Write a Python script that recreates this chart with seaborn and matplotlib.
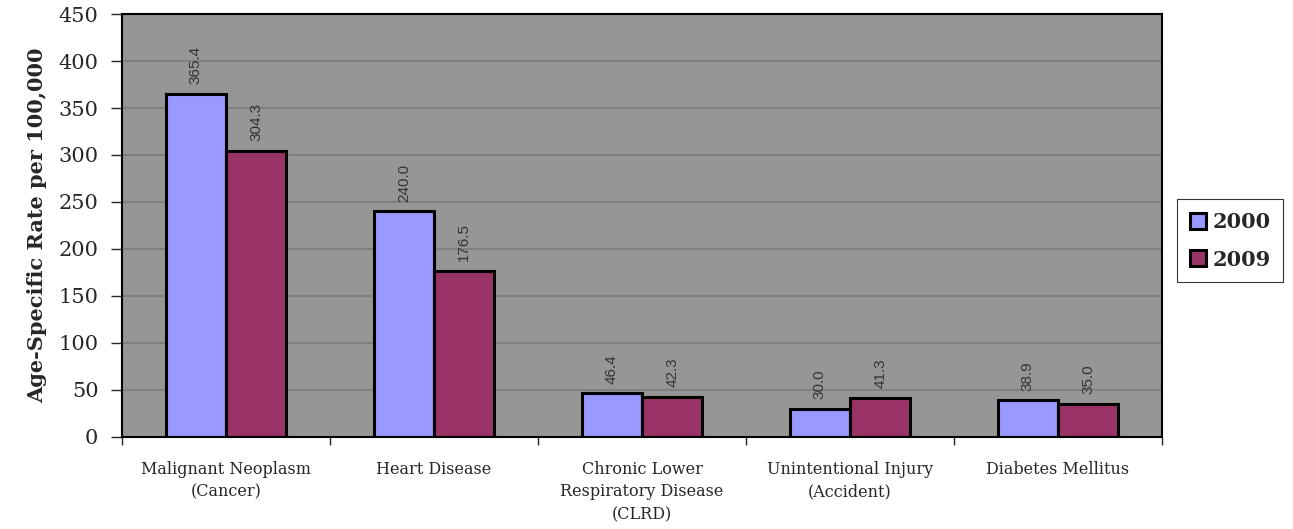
import matplotlib.pyplot as plt
import seaborn as sns
import pandas as pd
import numpy as np

# Data
causes = ["Malignant Neoplasm\n(Cancer)", "Heart Disease",
          "Chronic Lower\nRespiratory Disease\n(CLRD)",
          "Unintentional Injury\n(Accident)", "Diabetes Mellitus"]
years = ["2000", "2009"]
rate_2000 = [365.4, 240.0, 46.4, 30.0, 38.9]
rate_2009 = [304.3, 176.5, 42.3, 41.3, 35.0]
y_ticks = list(range(0, 451, 50))

colors = ["#9999FF", "#993366"]
serif = ["DejaVu Serif"]

df = pd.DataFrame({"Cause": causes * 2,
                   "Year": [years[0]] * 5 + [years[1]] * 5,
                   "Rate": rate_2000 + rate_2009})

sns.set_style("white")
plt.rcParams['font.family'] = serif

fig = plt.figure(figsize=(12.93, 5.29), dpi=100)
ax = fig.add_axes([0.0944, 0.174, 0.8043, 0.7995])
ax.set_facecolor("#969696")

sns.barplot(data=df, x="Cause", y="Rate", hue="Year", palette=colors,
            saturation=1, width=0.58, edgecolor="black", linewidth=2.2, ax=ax)

ax.set_ylim(0, 450)
ax.set_xlim(-0.5, 4.5)
ax.set_yticks(y_ticks)
ax.yaxis.grid(True, color="#808080", linewidth=1.5)
ax.set_axisbelow(True)

for s in ax.spines.values():
    s.set_color("black")
    s.set_linewidth(1.5)

ax.tick_params(axis="y", labelsize=15, length=8, width=1, direction="out",
               left=True, pad=9)
ax.set_xticks(range(5))
ax.set_xticklabels(causes, fontsize=11.5, linespacing=1.45)
ax.tick_params(axis="x", which="major", length=0, pad=17)
ax.set_xticks(np.arange(-0.5, 5, 1), minor=True)
ax.tick_params(axis="x", which="minor", length=6, width=1, direction="out", bottom=True)

ax.set_xlabel("")
ax.set_ylabel("Age-Specific Rate per 100,000", fontsize=15, fontweight="bold", labelpad=8)

for container in ax.containers:
    ax.bar_label(container, fmt="%.1f", rotation=90, padding=7, fontsize=11,
                 color="#333333", family=["Liberation Sans", "DejaVu Sans"])

handles, labels = ax.get_legend_handles_labels()
ax.legend(handles, labels, loc="center left", bbox_to_anchor=(0.9103, 0.545),
          bbox_transform=fig.transFigure, frameon=True, fancybox=False,
          edgecolor="black", prop={"family": serif, "weight": "bold", "size": 15},
          handlelength=0.8, handleheight=0.8, handletextpad=0.3, borderpad=0.6,
          labelspacing=0.85, borderaxespad=0)
leg = ax.get_legend()
leg.get_frame().set_linewidth(0.8)

fig.savefig("out.png", dpi=100)
